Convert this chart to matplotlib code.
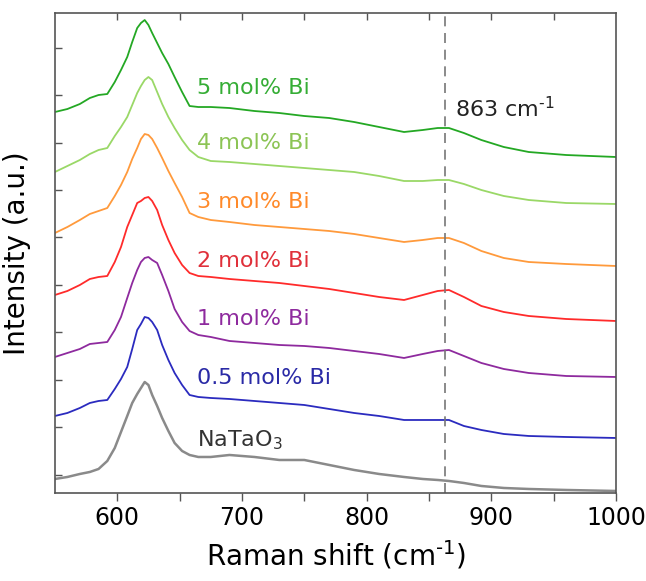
import numpy as np
import matplotlib
matplotlib.use('Agg')
import matplotlib.pyplot as plt

# Raman shift (cm-1), common grid for all spectra
shift = [550, 560, 570, 578, 585, 592, 598, 603, 608, 612, 616, 619, 622, 625,
         628, 632, 636, 641, 646, 652, 658, 665, 675, 690, 710, 730, 750, 770,
         790, 810, 830, 845, 857, 866, 878, 892, 910, 930, 960, 1000]

# intensities (a.u., already stacked with offsets as in the figure)
bi_5 = [381, 384, 389, 395, 398, 399, 411, 423, 436, 451, 465, 470, 473, 468,
        460, 450, 440, 429, 416, 401, 387, 386, 386, 385, 382, 380, 377, 375,
        371, 366, 361, 363, 365, 365, 360, 353, 346, 341, 338, 336]
bi_4 = [321, 327, 333, 339, 343, 345, 357, 366, 376, 388, 400, 407, 413, 416,
        413, 401, 389, 376, 365, 353, 343, 336, 332, 331, 329, 327, 325, 323,
        321, 317, 312, 312, 313, 313, 309, 303, 297, 293, 290, 289]
bi_3 = [260, 266, 273, 279, 282, 285, 297, 308, 321, 334, 345, 354, 359, 358,
        354, 345, 335, 322, 310, 296, 280, 276, 273, 271, 268, 266, 264, 262,
        259, 255, 251, 253, 255, 255, 250, 242, 235, 231, 229, 227]
bi_2 = [198, 202, 208, 214, 216, 217, 231, 246, 266, 278, 290, 292, 295, 296,
        292, 283, 268, 253, 240, 228, 220, 217, 216, 214, 212, 210, 207, 204,
        200, 196, 193, 198, 202, 203, 196, 187, 181, 177, 174, 172]
bi_1 = [136, 140, 144, 149, 150, 151, 163, 176, 195, 210, 223, 231, 235, 236,
        233, 230, 218, 202, 184, 171, 162, 158, 156, 152, 150, 148, 147, 145,
        142, 139, 135, 139, 142, 143, 137, 130, 124, 120, 117, 116]
bi_05 = [77, 80, 85, 90, 92, 93, 104, 114, 126, 144, 163, 169, 176, 175,
         171, 163, 148, 133, 120, 108, 98, 96, 95, 94, 92, 90, 88, 84,
         80, 77, 73, 73, 73, 73, 67, 63, 59, 57, 56, 55]
natao3 = [14, 16, 19, 21, 24, 32, 45, 61, 77, 90, 99, 105, 111, 108,
          98, 87, 75, 62, 50, 42, 38, 36, 36, 38, 36, 33, 33, 28,
          23, 19, 16, 14, 13, 12, 10, 7, 5, 4, 3, 2]

labels = ['5 mol% Bi', '4 mol% Bi', '3 mol% Bi', '2 mol% Bi',
          '1 mol% Bi', '0.5 mol% Bi', r'NaTaO$_3$']
label_y = [405, 350, 291, 232, 174, 115, 53]
line_colors = ['#24a824', '#9ad867', '#ff9a3c', '#ff2b2b', '#8e2a9e', '#2b2bbf', '#8a8a8a']
text_colors = ['#35ad35', '#8cc455', '#ff8a2a', '#e0303a', '#8e2a9e', '#2a2aa6', '#333333']
peak_pos = 863

spectra = [bi_5, bi_4, bi_3, bi_2, bi_1, bi_05, natao3]

fig = plt.figure(figsize=(6.46, 5.81), dpi=100)
ax = fig.add_axes([0.085, 0.1515, 0.8686, 0.8261])

for y, c in zip(spectra, line_colors):
    lw = 1.8 if c == '#8a8a8a' else 1.3
    ax.plot(shift, y, color=c, lw=lw)

for lab, ly, tc in zip(labels, label_y, text_colors):
    ax.text(664, ly, lab, color=tc, fontsize=16, va='center', ha='left')

ax.axvline(peak_pos, color='#777777', lw=1.2, ls=(0, (6, 4)))
ax.text(871, 384, r'863 cm$^{\text{-}1}$', fontsize=16, color='#222222',
        va='center', ha='left')

ax.set_xlim(550, 1000)
ax.set_ylim(0, 480)
ax.set_xticks([600, 700, 800, 900, 1000])
ax.set_xticks([650, 750, 850, 950], minor=True)
ax.set_yticks(np.arange(18, 480, 47.5))
ax.set_yticklabels([])

ax.tick_params(axis='x', which='both', direction='out', length=6, width=1,
               labelsize=17, color='#555555')
ax.tick_params(axis='y', which='both', direction='in', length=5, width=1,
               color='#555555')
for sp in ax.spines.values():
    sp.set_color('#555555')
    sp.set_linewidth(1.2)

# inward ticks along the top edge
top = ax.secondary_xaxis('top')
top.set_xticks([600, 650, 700, 750, 800, 850, 900, 950])
top.tick_params(direction='in', length=5, width=1, color='#555555', labeltop=False)
top.spines['top'].set_visible(False)

ax.set_xlabel(r'Raman shift (cm$^{\text{-}1}$)', fontsize=20, labelpad=6)
ax.set_ylabel('Intensity (a.u.)', fontsize=20, labelpad=14)

fig.savefig('out.png', dpi=100)
